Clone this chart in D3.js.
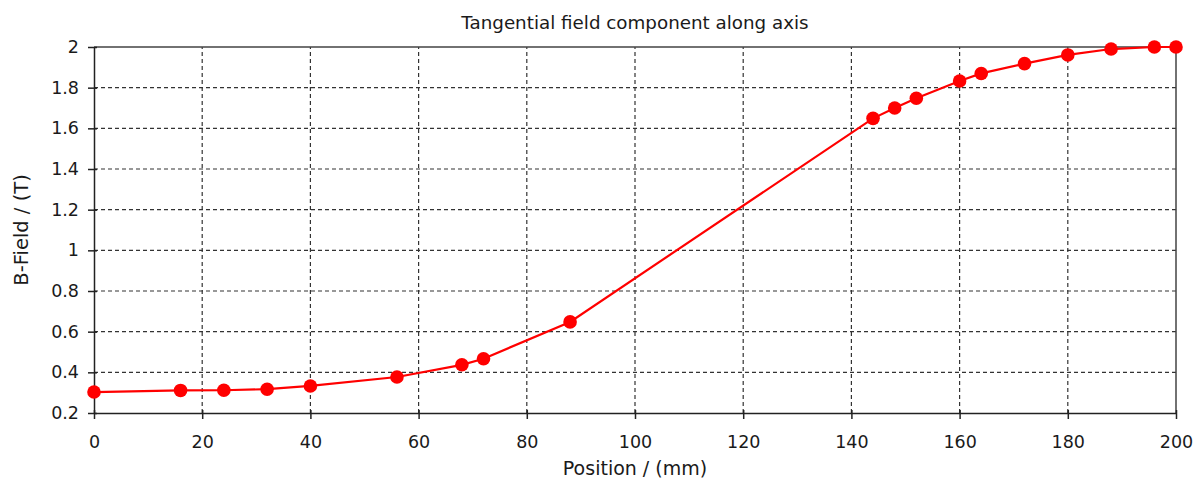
<!DOCTYPE html>
<html lang="en">
<head>
    <meta charset="UTF-8">
    <title>Tangential field component along axis</title>
    <style>
        body { margin: 0; background: #fff; }
        text { font-family: "DejaVu Sans", sans-serif; fill: #1a1a1a; }
        .grid line { stroke: #333; stroke-width: 1.2px; stroke-dasharray: 4,3; }
        .axis path, .axis line { stroke: #222; }
    </style>
    <script src="https://d3js.org/d3.v7.min.js"></script>
</head>
<body>
    <div id="chart"></div>
    <script>
        const positions = [0, 16, 24, 32, 40, 56, 68, 72, 88, 144, 148, 152, 160, 164, 172, 180, 188, 196, 200];
        const bField = [0.303, 0.311, 0.312, 0.317, 0.333, 0.377, 0.437, 0.467, 0.648, 1.649, 1.70, 1.748, 1.833, 1.87, 1.918, 1.961, 1.99, 2.0, 2.0];
        const xTicks = [0, 20, 40, 60, 80, 100, 120, 140, 160, 180, 200];
        const yTicks = [0.2, 0.4, 0.6, 0.8, 1, 1.2, 1.4, 1.6, 1.8, 2];

        const width = 1195, height = 481;
        const margin = { top: 47, right: 19, bottom: 68, left: 94 };

        const svg = d3.select("#chart").append("svg")
            .attr("width", width)
            .attr("height", height);

        const x = d3.scaleLinear().domain([0, 200]).range([margin.left, width - margin.right]);
        const y = d3.scaleLinear().domain([0.2, 2]).range([height - margin.bottom, margin.top]);

        // dashed grid
        const grid = svg.append("g").attr("class", "grid");
        grid.selectAll(".gx")
            .data(xTicks.slice(1, -1))
            .join("line")
            .attr("x1", d => x(d)).attr("x2", d => x(d))
            .attr("y1", y(0.2)).attr("y2", y(2));
        grid.selectAll(".gy")
            .data(yTicks.slice(1, -1))
            .join("line")
            .attr("y1", d => y(d)).attr("y2", d => y(d))
            .attr("x1", x(0)).attr("x2", x(200));

        // frame: top and right
        svg.append("path")
            .attr("d", `M${x(0)},${y(2)}H${x(200)}V${y(0.2)}`)
            .attr("fill", "none")
            .attr("stroke", "#444")
            .attr("stroke-width", 1.5);

        const xAxis = svg.append("g")
            .attr("class", "axis")
            .attr("transform", `translate(0,${y(0.2)})`)
            .call(d3.axisBottom(x).tickValues(xTicks).tickSize(6).tickSizeOuter(0));
        xAxis.selectAll("text").style("font-size", "17.5px").attr("y", 35).attr("dy", 0);
        xAxis.select(".domain").attr("stroke-width", 1.5);
        xAxis.selectAll(".tick line").attr("stroke-width", 1.5).attr("y1", -3).attr("y2", 6);

        const yAxis = svg.append("g")
            .attr("class", "axis")
            .attr("transform", `translate(${x(0)},0)`)
            .call(d3.axisLeft(y).tickValues(yTicks).tickFormat(d3.format("~g")).tickSize(6).tickSizeOuter(0));
        yAxis.selectAll("text").style("font-size", "17.5px").attr("x", -15);
        yAxis.select(".domain").attr("stroke-width", 1.5);
        yAxis.selectAll(".tick line").attr("stroke-width", 1.5).attr("x1", 3).attr("x2", -6);

        // series
        const data = positions.map((p, i) => ({ p, b: bField[i] }));
        svg.append("path")
            .datum(data)
            .attr("fill", "none")
            .attr("stroke", "#ff0000")
            .attr("stroke-width", 2.2)
            .attr("d", d3.line().x(d => x(d.p)).y(d => y(d.b)));
        svg.selectAll(".pt")
            .data(data)
            .join("circle")
            .attr("cx", d => x(d.p))
            .attr("cy", d => y(d.b))
            .attr("r", 6.8)
            .attr("fill", "#ff0000");

        // titles
        svg.append("text")
            .attr("x", (x(0) + x(200)) / 2)
            .attr("y", 29)
            .attr("text-anchor", "middle")
            .style("font-size", "18.3px")
            .text("Tangential field component along axis");
        svg.append("text")
            .attr("x", (x(0) + x(200)) / 2)
            .attr("y", 475)
            .attr("text-anchor", "middle")
            .style("font-size", "19px")
            .text("Position / (mm)");
        svg.append("text")
            .attr("transform", `translate(28,${(y(0.2) + y(2)) / 2}) rotate(-90)`)
            .attr("text-anchor", "middle")
            .style("font-size", "19.5px")
            .text("B-Field / (T)");
    </script>
</body>
</html>
